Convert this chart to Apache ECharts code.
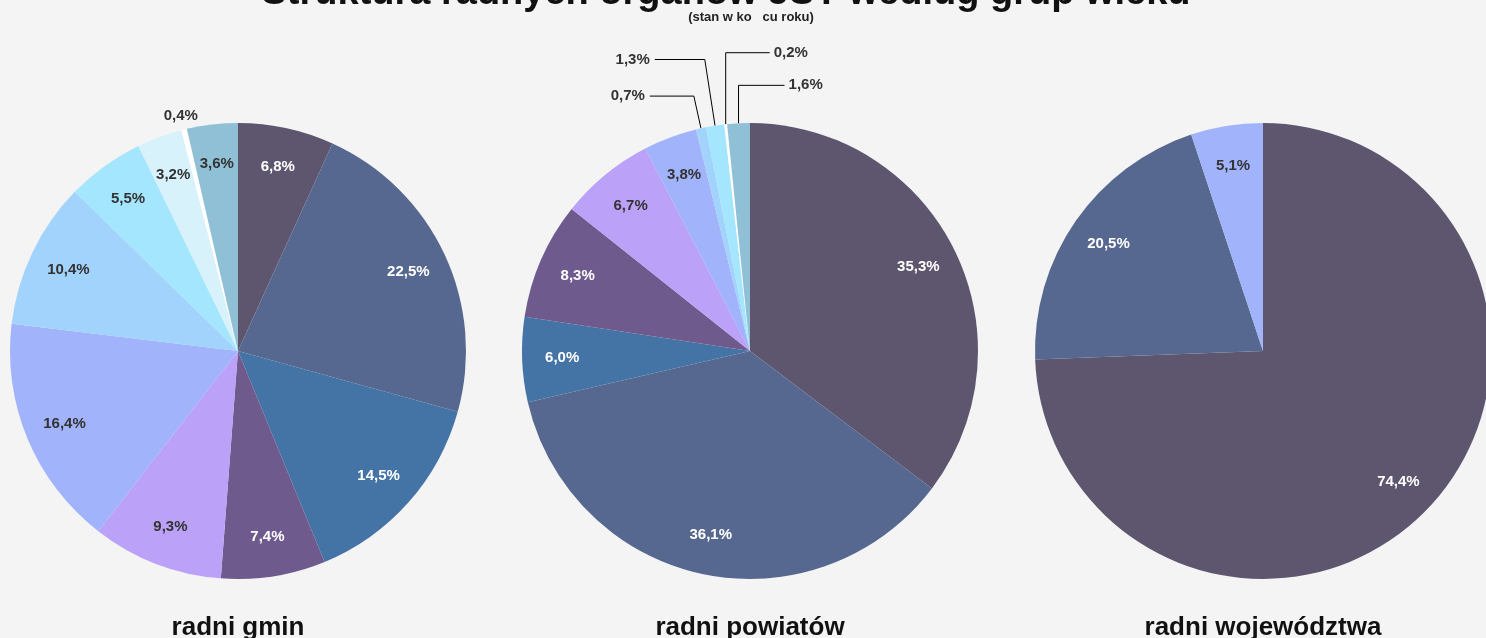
<!DOCTYPE html>
<html>
<head>
<meta charset="utf-8">
<style>
  html, body { margin: 0; padding: 0; background: #f4f4f4; }
  #chart { width: 1486px; height: 638px; }
</style>
<script src="https://cdn.jsdelivr.net/npm/echarts@6/dist/echarts.min.js"></script>
</head>
<body>
<div id="chart"></div>
<script>
// age groups (legend is not shown in the picture)
var groups = ['grupa 1', 'grupa 2', 'grupa 3', 'grupa 4', 'grupa 5', 'grupa 6',
              'grupa 7', 'grupa 8', 'grupa 9', 'grupa 10', 'grupa 11'];
var gminValues        = [6.8, 22.5, 14.5, 7.4, 9.3, 16.4, 10.4, 5.5, 3.2, 0.4, 3.6];
var powiatowValues    = [35.3, 36.1, 6.0, 8.3, 6.7, 3.8, 0.7, 1.3, 0, 0.2, 1.6];
var wojewodztwaValues = [74.4, 20.5, 0, 0, 0, 5.1, 0, 0, 0, 0, 0];
var pieNames = ['radni gmin', 'radni powiatów', 'radni województwa'];
var chartTitle = 'Struktura radnych organów JST według grup wieku';
var chartSubtitle = '(stan w ko   cu roku)';

var sliceColors = ['#5e566f', '#56688f', '#4473a5', '#6f5a8e', '#bba1f8', '#a0b3fb',
                   '#a2d3fc', '#a4e6fd', '#d7f2fb', '#ffffff', '#8fc0d6'];
var whiteLabel = [true, true, true, true, false, false, false, false, false, false, false];

var FONT = '"Liberation Sans", Arial, sans-serif';
var pieCenters = [[238, 351], [750, 351], [1263, 351]];
var pieRadius = 228;

// how each small slice gets its label: 'ring' = outside without line,
// 'line' = leader line to the left, 'flip' = leader line going up then right
var labelPlacement = [
  { 9: { mode: 'ring' } },
  { 6: { mode: 'line', len: 33, len2: 44 },
    7: { mode: 'line', len: 67, len2: 50 },
    9: { mode: 'flip', len: 72, len2: 44 },
    10: { mode: 'flip', len: 38, len2: 46 } },
  {}
];

function fmt(v) {
  return v.toFixed(1).replace('.', ',') + '%';
}

var allValues = [gminValues, powiatowValues, wojewodztwaValues];
var series = [];

allValues.forEach(function (values, p) {
  var place = labelPlacement[p];
  var mainData = [], innerData = [], ringData = [];
  var flipByIndex = {};
  values.forEach(function (v, i) {
    if (!v) return;
    var cfg = place[i] || { mode: 'in' };
    var idx = mainData.length;
    var hasLine = cfg.mode === 'line' || cfg.mode === 'flip';
    if (cfg.mode === 'flip') flipByIndex[idx] = true;
    mainData.push({
      name: groups[i], value: v,
      itemStyle: { color: sliceColors[i] },
      label: { show: hasLine },
      labelLine: hasLine ? { show: true, length: cfg.len, length2: cfg.len2 } : { show: false }
    });
    innerData.push({
      name: groups[i], value: v,
      label: { show: cfg.mode === 'in', color: whiteLabel[i] ? '#ffffff' : '#333333' }
    });
    ringData.push({
      name: groups[i], value: v,
      label: { show: cfg.mode === 'ring', color: '#333333' }
    });
  });

  series.push({
    type: 'pie',
    center: pieCenters[p],
    radius: [0, pieRadius],
    startAngle: 90,
    avoidLabelOverlap: false,
    label: {
      position: 'outside',
      formatter: function (d) { return fmt(d.value); },
      fontFamily: FONT, fontSize: 15, fontWeight: 'bold', color: '#333333'
    },
    labelLine: { lineStyle: { color: '#000000', width: 1 }, smooth: false },
    labelLayout: function (prm) {
      if (!flipByIndex[prm.dataIndex] || !prm.labelLinePoints) return {};
      var pts = prm.labelLinePoints;
      var start = pts[0];
      var len2 = Math.abs(pts[2][0] - pts[1][0]);
      var elbow = [start[0], pts[1][1]];
      var end = [start[0] + len2, pts[1][1]];
      return { x: end[0] + 4, y: end[1], align: 'left', verticalAlign: 'middle',
               labelLinePoints: [start, elbow, end] };
    },
    emphasis: { disabled: true },
    data: mainData
  });

  // transparent ring only to place the inside labels
  series.push({
    type: 'pie',
    center: pieCenters[p],
    radius: [150, 220],
    startAngle: 90,
    silent: true,
    avoidLabelOverlap: false,
    itemStyle: { color: 'rgba(0,0,0,0)' },
    label: {
      position: 'inside',
      formatter: function (d) { return fmt(d.value); },
      fontFamily: FONT, fontSize: 15, fontWeight: 'bold'
    },
    labelLine: { show: false },
    emphasis: { disabled: true },
    data: innerData
  });

  // transparent ring just outside the pie for labels without a line
  series.push({
    type: 'pie',
    center: pieCenters[p],
    radius: [232, 246],
    startAngle: 90,
    silent: true,
    avoidLabelOverlap: false,
    itemStyle: { color: 'rgba(0,0,0,0)' },
    label: {
      position: 'inside',
      formatter: function (d) { return fmt(d.value); },
      fontFamily: FONT, fontSize: 15, fontWeight: 'bold'
    },
    labelLine: { show: false },
    emphasis: { disabled: true },
    data: ringData
  });
});

var texts = [
  { type: 'text', x: 726, y: -6, style: { text: chartTitle, font: 'bold 38px ' + FONT, fill: '#111111', align: 'center', verticalAlign: 'middle' } },
  { type: 'text', x: 751, y: 17, style: { text: chartSubtitle, font: 'bold 13px ' + FONT, fill: '#222222', align: 'center', verticalAlign: 'middle' } }
];
pieNames.forEach(function (n, p) {
  texts.push({ type: 'text', x: pieCenters[p][0], y: 628,
    style: { text: n, font: 'bold 26px ' + FONT, fill: '#111111', align: 'center', verticalAlign: 'middle' } });
});

var chart = echarts.init(document.getElementById('chart'));
chart.setOption({
  backgroundColor: '#f4f4f4',
  animation: false,
  graphic: texts,
  series: series
});
</script>
</body>
</html>
